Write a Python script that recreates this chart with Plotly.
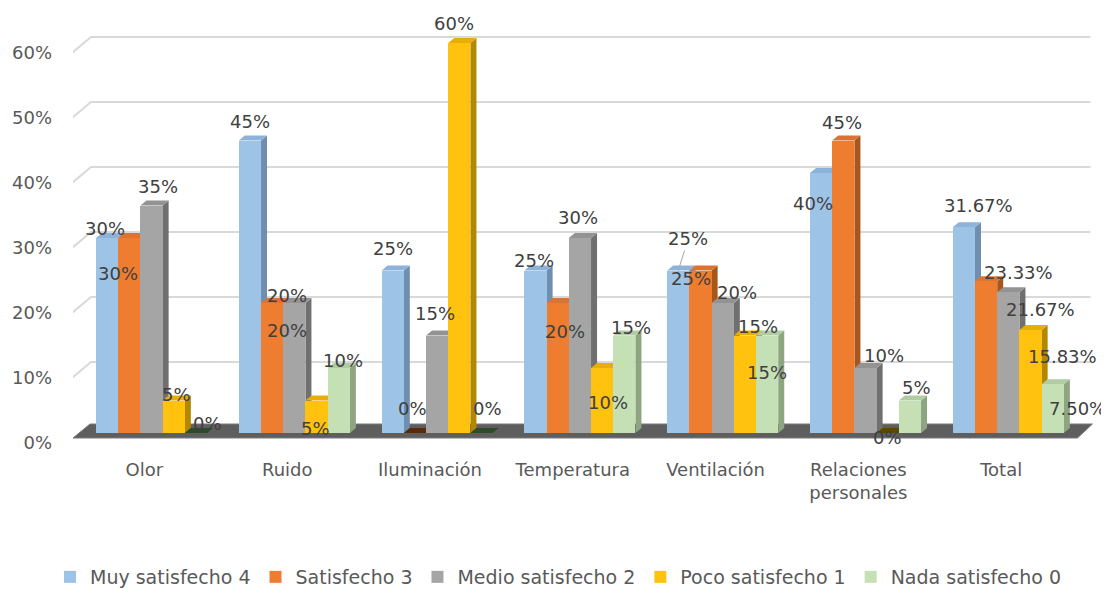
import plotly.graph_objects as go

# ---------------- data ----------------
categories = ["Olor", "Ruido", "Iluminación", "Temperatura", "Ventilación",
              "Relaciones<br>personales", "Total"]
series_names = ["Muy satisfecho 4", "Satisfecho 3", "Medio satisfecho 2",
                "Poco satisfecho 1", "Nada satisfecho 0"]
muy_satisfecho = [30, 45, 25, 25, 25, 40, 31.67]
satisfecho = [30, 20, 0, 20, 25, 45, 23.33]
medio_satisfecho = [35, 20, 15, 30, 20, 10, 21.67]
poco_satisfecho = [5, 5, 60, 10, 15, 0, 15.83]
nada_satisfecho = [0, 10, 0, 15, 15, 5, 7.50]
label_texts = [
    ["30%", "45%", "25%", "25%", "25%", "40%", "31.67%"],
    ["30%", "20%", "0%", "20%", "25%", "45%", "23.33%"],
    ["35%", "20%", "15%", "30%", "20%", "10%", "21.67%"],
    ["5%", "5%", "60%", "10%", "15%", "0%", "15.83%"],
    ["0%", "10%", "0%", "15%", "15%", "5%", "7.50%"],
]
y_ticks = [0, 10, 20, 30, 40, 50, 60]
y_tick_text = ["0%", "10%", "20%", "30%", "40%", "50%", "60%"]

series_values = [muy_satisfecho, satisfecho, medio_satisfecho, poco_satisfecho, nada_satisfecho]

# ---------------- style ----------------
FONT = "DejaVu Sans"
front_colors = ["#9DC3E6", "#EF7D30", "#A5A5A5", "#FFC20E", "#C5E0B4"]
side_colors = ["#6F8EB0", "#A9561C", "#707070", "#B38700", "#8EA582"]
top_colors = ["#8DB3DA", "#DD7330", "#939393", "#E8AE08", "#B1CBA2"]
zero_colors = ["#3c4f63", "#5a2a0c", "#3a3a3a", "#5e4700", "#2e4a2a"]

# label offsets in pixels (xshift, yshift) per series / category
label_shift = [
    [(-2, 10), (0, 19.5), (0, 22), (-2, 10.5), (10, 32), (-8, -30), (14.5, 22)],
    [(-11, -35), (15, 8), (-2, 25), (7.5, -28), (-10, -7.5), (-1, 18.5), (32, 8.5)],
    [(6.5, 19.5), (-7, -27), (-2, 22), (-2, 21), (14.5, 11), (18, 13), (32, -17)],
    [(3, 6), (-1.5, -27.5), (-5, 20), (6, -34), (13.5, 9.5), (0, -4), (32, -26)],
    [(12, 10), (4.5, 8), (5.6, 25), (7, 8.5), (0, -36.5), (7, 13.5), (24.6, -24)],
]
label_arrow = [[False, False, False, False, True, False, False]] + [[False] * 7] * 4

PAGE_PAD = 8           # default body margin of the html page
FIG_W = 1109 - PAGE_PAD
FIG_H = 589 - PAGE_PAD
PX_X = 142.75          # pixels per category unit
PX_Y = 6.5             # pixels per percent
bar_w = 22.2 / PX_X
depth_dx = 6 / PX_X
depth_dy = 5 / PX_Y
grid_back_dx = 0.126
grid_back_dy = 6 / PX_Y
grid_front_dy = -10 / PX_Y
x_range = [-0.55, 6.6]
y_range = [-20 / PX_Y, 410 / PX_Y]

n_series = len(series_values)
n_cat = len(categories)

fig = go.Figure()
shapes = []

# gridlines (back wall with diagonal left edge)
for v in y_ticks[1:]:
    shapes.append(dict(type="path", layer="below",
                       path=f"M {x_range[0] - 0.007},{v + grid_front_dy} L {x_range[0] + grid_back_dx},{v + grid_back_dy} L 6.575,{v + grid_back_dy}",
                       line=dict(color="#D9D9D9", width=2), xref="x", yref="y"))

# floor
shapes.append(dict(type="path", layer="below",
                   path=f"M {x_range[0]},{-5 / PX_Y} L 6.484,{-5 / PX_Y} L 6.589,{9 / PX_Y} L {x_range[0] + 0.119},{9 / PX_Y} Z",
                   fillcolor="#5E5E5E", line=dict(color="#7a7a7a", width=1), xref="x", yref="y"))

# bar side and top faces
for k in range(n_cat):
    for i in range(n_series):
        v = series_values[i][k]
        left = k - 2.5 * bar_w + i * bar_w
        right = left + bar_w
        if v > 0:
            shapes.append(dict(type="path", layer="below",
                               path=f"M {right},0 L {right},{v} L {right + depth_dx},{v + depth_dy} L {right + depth_dx},{depth_dy} Z",
                               fillcolor=side_colors[i], line=dict(width=0), xref="x", yref="y"))
            shapes.append(dict(type="path", layer="below",
                               path=f"M {left},{v} L {right},{v} L {right + depth_dx},{v + depth_dy} L {left + depth_dx},{v + depth_dy} Z",
                               fillcolor=top_colors[i], line=dict(width=0), xref="x", yref="y"))
        else:
            shapes.append(dict(type="path", layer="below",
                               path=f"M {left},0 L {right},0 L {right + depth_dx},{depth_dy} L {left + depth_dx},{depth_dy} Z",
                               fillcolor=zero_colors[i], line=dict(width=0), xref="x", yref="y"))

# bar fronts
for i in range(n_series):
    fig.add_trace(go.Bar(
        x=list(range(n_cat)), y=series_values[i], name=series_names[i],
        width=bar_w, offset=-2.5 * bar_w + i * bar_w,
        marker=dict(color=front_colors[i], line=dict(width=0)),
        hoverinfo="skip",
    ))

# data labels
annotations = []
for i in range(n_series):
    for k in range(n_cat):
        v = series_values[i][k]
        cx = k - 2.5 * bar_w + (i + 0.5) * bar_w
        sx, sy = label_shift[i][k]
        if label_arrow[i][k]:
            annotations.append(dict(x=cx, y=v, xref="x", yref="y", text=label_texts[i][k],
                                    showarrow=True, arrowhead=0, arrowwidth=1, arrowcolor="#A6A6A6",
                                    ax=sx, ay=-sy, standoff=0,
                                    font=dict(family=FONT, size=18, color="#404040")))
        else:
            annotations.append(dict(x=cx, y=v, xref="x", yref="y", text=label_texts[i][k],
                                    showarrow=False, xshift=sx, yshift=sy,
                                    xanchor="center", yanchor="middle",
                                    font=dict(family=FONT, size=18, color="#404040")))

plot_w = (x_range[1] - x_range[0]) * PX_X
left_m = 73 - PAGE_PAD
top_m = 23 - PAGE_PAD
plot_h = 430
fig.update_layout(
    width=FIG_W, height=FIG_H, autosize=False,
    margin=dict(l=left_m, r=FIG_W - left_m - plot_w, t=top_m, b=FIG_H - top_m - plot_h, autoexpand=False),
    paper_bgcolor="white", plot_bgcolor="white",
    barmode="overlay", bargap=0,
    shapes=shapes, annotations=annotations,
    xaxis=dict(range=x_range, tickvals=[k - 0.05 for k in range(n_cat)], ticktext=categories,
               showgrid=False, zeroline=False, showline=False, ticks="", automargin=False,
               tickfont=dict(family=FONT, size=18, color="#595959"), ticklabelstandoff=4),
    yaxis=dict(range=y_range, tickvals=[v + grid_front_dy for v in y_ticks], ticktext=y_tick_text,
               showgrid=False, zeroline=False, showline=False, ticks="", automargin=False,
               tickfont=dict(family=FONT, size=18, color="#595959"), ticklabelstandoff=20),
    legend=dict(orientation="h", x=0.5, xanchor="center", xref="container",
                y=1 - (558 - PAGE_PAD) / FIG_H, yanchor="top", yref="container",
                font=dict(family=FONT, size=19, color="#595959"), itemwidth=30,
                traceorder="normal"),
    showlegend=True,
)

fig.write_html("out.html")
